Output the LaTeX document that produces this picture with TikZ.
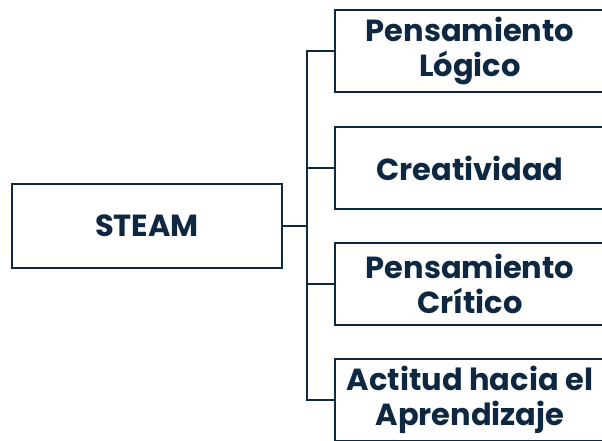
\documentclass[tikz,border=0pt]{standalone}
\usepackage{fontspec}
\setmainfont{Poppins}[Ligatures=NoCommon]
\usetikzlibrary{positioning}
\definecolor{navy}{HTML}{0E2841}
\tikzstyle{mybox}=[draw=navy,line width=2.6pt,minimum width=270pt,minimum height=82pt,inner sep=0pt,align=center,text=navy,font=\fontsize{30.5}{35}\selectfont\bfseries]
\tikzstyle{myline}=[draw=navy,line width=2.6pt]

\begin{document}
\begin{tikzpicture}[x=1pt,y=-1pt]
		\useasboundingbox (0,0) rectangle (602,440);
		\clip (0,0) rectangle (602,440);

		\node[mybox,minimum height=84pt] (steam) at (147,226) {STEAM};

		\node[mybox] (logico) at (470,51) {Pensamiento\\L\'ogico};
		\node[mybox] (creat) at (470,168) {Creatividad};
		\node[mybox] (critico) at (470,284) {Pensamiento\\Cr\'itico};
		\node[mybox] (actitud) at (470,400) {Actitud hacia el\\Aprendizaje};

		\coordinate (hub) at (307,226);
		\draw[myline] (steam.east) -- (hub);
		\foreach \b in {logico,creat,critico,actitud} {\draw[myline] (hub) |- (\b.west);}
	\end{tikzpicture}
\end{document}
